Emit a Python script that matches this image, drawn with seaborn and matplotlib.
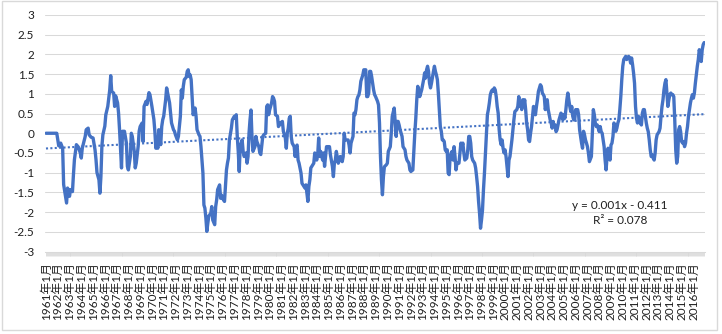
import matplotlib
matplotlib.use('Agg')
import matplotlib.pyplot as plt
import numpy as np
import pandas as pd
import seaborn as sns
from matplotlib.patches import Rectangle

# month index counted from 1961年1月 (= 0)
months_60s = [0, 11, 13, 15, 17, 18, 21, 22, 24, 25, 27, 28, 29, 31, 33, 35, 36, 37, 40, 41,
              43, 44, 46, 48, 50, 51, 52, 54, 55, 56, 57, 58, 60, 61, 63, 65, 66, 67, 69, 70,
              71, 73, 74, 75, 77, 78, 80, 82, 83, 84, 86, 87, 88, 90, 91, 92, 94, 95, 96, 98,
              99, 100, 102, 103, 105, 106]
values_60s = [0.0, 0.0, -0.32, -0.25, -0.38, -1.3, -1.77, -1.39, -1.6, -1.43, -1.48, -1.05, -0.67,
              -0.29, -0.35, -0.5, -0.63, -0.38, -0.08, 0.09, 0.13, -0.04, -0.1, -0.12, -0.42,
              -0.67, -1.0, -1.18, -1.52, -1.1, -0.33, -0.04, 0.18, 0.47, 0.68, 1.1, 1.46, 1.06,
              1.02, 0.68, 0.95, 0.77, 0.51, 0.09, -0.88, 0.05, 0.05, -0.25, -0.84, -0.93, -0.59,
              0.0, -0.08, -0.46, -0.88, -0.76, -0.33, 0.05, 0.17, 0.26, -0.21, 0.68, 0.81, 0.73,
              1.03, 0.98]

months_70s = [108, 109, 110, 111, 112, 113, 114, 115, 117, 118, 119, 120, 122, 123, 124, 126, 127,
              128, 130, 131, 132, 134, 135, 137, 138, 139, 140, 141, 143, 144, 145, 146, 147, 148,
              149, 150, 152, 153, 154, 156, 157, 158, 160, 161, 162, 163, 164, 165, 166, 168, 169,
              170, 172, 173, 174, 175, 177, 178, 179, 180, 181, 182, 183, 184, 185, 186, 187, 189,
              190, 192, 193, 194, 195, 196, 197, 198, 200, 201, 202, 204, 205, 206, 207, 208, 209,
              210, 211, 213, 214, 215, 217, 218, 219, 221, 222, 224, 225, 226, 227]
values_70s = [0.68, 0.51, 0.35, 0.05, -0.38, -0.17, -0.38, 0.09, -0.29, 0.17, 0.34, 0.43, 0.85,
              1.15, 1.02, 0.77, 0.51, 0.26, 0.09, 0.05, -0.04, -0.17, -0.08, 0.43, 1.1, 0.89,
              1.19, 1.36, 1.42, 1.57, 1.61, 1.44, 1.48, 1.36, 0.93, 0.47, 0.64, 0.43, 0.09, -0.04,
              -0.08, -0.34, -1.01, -1.82, -1.9, -2.15, -2.49, -2.28, -2.1, -2.03, -1.86, -2.2,
              -2.32, -1.86, -1.69, -1.43, -1.31, -1.65, -1.57, -1.65, -1.69, -1.73, -1.35, -0.93,
              -0.76, -0.63, -0.17, 0.13, 0.34, 0.43, 0.38, 0.47, -0.08, -0.46, -0.97, -0.34,
              -0.17, -0.46, -0.59, -0.5, -0.76, -0.59, 0.0, 0.34, 0.59, -0.08, -0.46, -0.34, -0.08,
              -0.21, -0.34, -0.5, -0.54, -0.08, -0.04, 0.0, 0.68, 0.72, 0.47]

months_80s = [228, 230, 231, 232, 233, 234, 236, 237, 238, 239, 241, 242, 244, 245, 246, 247, 248,
              249, 250, 251, 253, 254, 255, 256, 257, 258, 260, 261, 262, 264, 265, 266, 267, 268,
              269, 270, 272, 273, 274, 276, 277, 278, 279, 280, 282, 283, 284, 285, 286, 289, 290,
              292, 293, 294, 295, 296, 298, 299, 300, 302, 303, 304, 305, 308, 309, 310, 311, 313,
              314, 315, 316, 317, 318, 319, 320, 321, 322, 323, 324, 326, 327, 328, 329, 330, 331,
              332, 334, 335, 336, 338, 339, 340, 341, 342, 343, 344, 345, 347]
values_80s = [0.59, 0.77, 0.93, 0.89, 0.81, 0.47, 0.43, 0.17, 0.21, 0.26, 0.3, 0.05, -0.12, -0.38,
              0.0, 0.13, 0.38, 0.43, -0.08, -0.25, -0.34, -0.59, -0.34, -0.3, -0.68, -0.76, -1.01,
              -1.27, -1.31, -1.39, -1.31, -1.52, -1.73, -1.35, -1.18, -0.88, -0.8, -0.76, -0.5,
              -0.68, -0.55, -0.12, -0.59, -0.46, -0.68, -0.5, -0.84, -0.59, -0.34, -0.34, -0.55,
              -0.84, -1.1, -0.76, -0.68, -0.46, -0.76, -0.68, -0.59, -0.72, -0.59, 0.0, -0.17,
              -0.17, -0.3, -0.5, -0.25, -0.08, 0.51, 0.47, 0.6, 0.85, 0.93, 0.97, 1.1, 1.32, 1.4,
              1.48, 1.61, 1.61, 0.93, 0.93, 1.02, 1.57, 1.57, 1.44, 1.1, 0.98, 0.93, 0.81, 0.72,
              0.26, -0.59, -1.18, -1.56, -1.1, -0.85, -0.8]

months_90s = [348, 349, 351, 352, 353, 355, 356, 357, 358, 359, 360, 361, 363, 364, 366, 367, 368,
              370, 371, 372, 374, 376, 377, 378, 379, 380, 381, 382, 383, 385, 386, 387, 388, 389,
              390, 391, 392, 393, 395, 396, 397, 398, 399, 400, 401, 402, 403, 404, 405, 406, 407,
              408, 409, 410, 411, 412, 413, 414, 415, 416, 417, 418, 419, 421, 422, 423, 424, 425,
              426, 427, 429, 430, 431, 432, 433, 434, 435, 436, 437, 438, 439, 440, 441, 442, 443,
              444, 445, 446, 447, 448, 449, 450, 451, 452, 453, 454, 455, 456, 457, 458, 459, 460,
              461, 462, 463, 464, 465, 466, 467]
values_90s = [-0.76, -0.46, -0.34, 0.0, 0.43, 0.64, 0.26, -0.08, 0.3, 0.3, 0.21, 0.09, -0.08,
              -0.34, -0.42, -0.59, -0.68, -0.76, -0.93, -0.97, -0.93, 0.0, 0.38, 0.85, 1.19, 1.1,
              0.93, 1.02, 1.1, 1.36, 1.53, 1.4, 1.61, 1.7, 1.57, 1.27, 1.15, 1.27, 1.57, 1.7, 1.57,
              1.48, 1.36, 1.02, 0.6, 0.17, 0.05, -0.17, -0.17, -0.21, -0.42, -0.46, -0.42, -1.01,
              -1.05, -0.59, -0.5, -0.46, -0.68, -0.34, -0.59, -0.93, -0.76, -0.76, -0.5, -0.25,
              -0.34, -0.25, -0.5, -0.68, -0.63, -0.42, -0.08, -0.08, -0.25, -0.59, -0.68, -0.72,
              -0.76, -0.88, -1.1, -1.35, -1.73, -2.03, -2.41, -2.2, -1.95, -1.43, -1.01, -0.5, 0.0,
              0.47, 0.6, 0.77, 0.98, 1.06, 1.1, 1.06, 1.15, 1.1, 0.93, 0.68, 0.51, 0.09, -0.17,
              -0.29, -0.17, -0.38, -0.5]

months_00s = [468, 469, 470, 471, 472, 473, 474, 475, 476, 477, 478, 480, 481, 482, 483, 484, 485,
              486, 487, 488, 489, 490, 491, 492, 493, 494, 495, 496, 497, 498, 499, 500, 501, 502,
              503, 504, 505, 506, 507, 508, 509, 510, 511, 512, 513, 514, 515, 516, 517, 518, 519,
              520, 521, 522, 523, 524, 525, 526, 527, 528, 529, 530, 531, 532, 533, 534, 535, 536,
              537, 538, 539, 540, 541, 542, 543, 544, 545, 546, 547, 548, 549, 550, 551, 552, 553,
              554, 556, 557, 558, 559, 560, 561, 562, 563, 564, 565, 566, 567, 568, 569, 570, 571,
              572, 573, 574, 575, 576, 577, 578, 579, 580, 581, 582, 583, 584, 585, 586, 587]
values_00s = [-0.42, -0.59, -0.84, -1.1, -0.68, -0.59, -0.38, -0.17, 0.09, 0.34, 0.55, 0.6, 0.68,
              0.93, 0.68, 0.76, 0.6, 0.85, 0.68, 0.85, 0.6, 0.26, 0.09, -0.17, -0.21, 0.0, 0.17,
              0.43, 0.68, 0.51, 0.47, 0.68, 0.85, 1.06, 1.15, 1.23, 1.19, 1.02, 0.98, 0.93, 0.6,
              0.72, 0.85, 0.6, 0.47, 0.34, 0.26, 0.13, 0.3, 0.17, 0.21, 0.04, 0.09, 0.21, 0.34,
              0.43, 0.51, 0.47, 0.34, 0.47, 0.38, 0.6, 0.85, 1.02, 0.85, 0.68, 0.55, 0.68, 0.43,
              0.34, 0.34, 0.6, 0.55, 0.6, 0.47, 0.09, -0.08, -0.25, -0.38, 0.05, -0.04, -0.17,
              -0.25, -0.34, -0.5, -0.72, -0.59, 0.0, 0.6, 0.47, 0.26, 0.17, 0.21, 0.13, 0.04, 0.17,
              0.04, 0.0, -0.17, -0.34, -0.68, -0.93, -0.59, -0.38, -0.5, -0.68, -0.3, -0.25, -0.08,
              0.26, 0.21, 0.05, 0.13, 0.26, 0.34, 0.6, 0.93, 1.36]

months_10s = [588, 589, 590, 591, 592, 593, 594, 595, 596, 597, 598, 599, 600, 601, 602, 603, 604,
              605, 607, 608, 609, 610, 611, 612, 613, 614, 615, 616, 617, 618, 619, 620, 621, 622,
              623, 624, 625, 626, 627, 628, 629, 630, 631, 632, 633, 634, 635, 636, 637, 638, 639,
              640, 641, 642, 643, 644, 645, 646, 647, 648, 649, 650, 651, 652, 653, 654, 655, 656,
              657, 658, 659, 660, 661, 662, 664, 665, 666, 667, 668, 669, 670, 671]
values_10s = [1.7, 1.87, 1.91, 1.95, 1.87, 1.91, 1.95, 1.91, 1.78, 1.91, 1.74, 1.53, 1.27, 0.68,
              0.38, 0.26, 0.43, 0.3, 0.21, 0.51, 0.6, 0.6, 0.43, 0.26, 0.13, 0.04, -0.17, -0.42,
              -0.59, -0.55, -0.63, -0.68, -0.5, -0.17, -0.04, 0.0, 0.04, 0.13, 0.43, 0.68, 0.85,
              1.1, 1.27, 1.36, 1.02, 0.68, 0.85, 0.98, 1.02, 0.98, 0.98, 0.93, 0.34, -0.42, -0.76,
              -0.59, 0.09, 0.17, 0.04, -0.21, -0.25, -0.21, -0.34, -0.25, 0.0, 0.17, 0.43, 0.6,
              0.77, 0.89, 0.98, 0.89, 1.02, 1.27, 1.7, 1.87, 2.12, 1.99, 1.82, 2.12, 2.25, 2.3]

years = list(range(1961, 2017))
tick_labels = [f'{y}年1月' for y in years]
y_ticks = [-3, -2.5, -2, -1.5, -1, -0.5, 0, 0.5, 1, 1.5, 2, 2.5, 3]
eq_text = 'y = 0.001x - 0.411'
r2_text = 'R² = 0.078'

blue = '#4472C4'
light = '#D9D9D9'
ink = '#1f1f1f'

df = pd.DataFrame({
    'month': months_60s + months_70s + months_80s + months_90s + months_00s + months_10s,
    'value': values_60s + values_70s + values_80s + values_90s + values_00s + values_10s,
})

sns.set_theme(style='white')
plt.rcParams['font.family'] = ['Lato', 'Noto Sans CJK SC', 'DejaVu Sans']

fig = plt.figure(figsize=(7.22, 3.34), dpi=100)
ax = fig.add_axes([0.0630, 0.2470, 0.9130, 0.7081])

sns.lineplot(data=df, x='month', y='value', color=blue, linewidth=2.4,
             errorbar=None, ax=ax, solid_joinstyle='round', solid_capstyle='round')

# linear trendline like Excel's (x counted from 1, every month weighted the same)
all_months = np.arange(672)
monthly = np.interp(all_months, df['month'], df['value'])
slope, icpt = np.polyfit(all_months + 1, monthly, 1)
xs = np.array([0, 671])
ax.plot(xs, slope * (xs + 1) + icpt, color=blue, lw=1.5,
        linestyle=(0, (1, 1.1)), dash_capstyle='butt')

ax.set_xlim(-0.5, 671.5)
ax.set_ylim(-3, 3)
ax.set_yticks(y_ticks)
ax.set_yticklabels([f'{v:g}' for v in y_ticks])
ax.set_xticks(np.arange(0, 672, 12))
ax.set_xticklabels(tick_labels, rotation=90)
ax.set_xticks(all_months, minor=True)
ax.set_xlabel('')
ax.set_ylabel('')

ax.yaxis.grid(True, color=light, lw=0.75)
ax.xaxis.grid(False)
ax.set_axisbelow(True)
for side in ['left', 'right', 'top']:
    ax.spines[side].set_visible(False)
ax.spines['bottom'].set_color(light)
ax.spines['bottom'].set_linewidth(0.75)

ax.tick_params(axis='x', which='both', bottom=True, direction='out', length=3,
               width=0.6, color=light)
ax.tick_params(axis='x', which='major', pad=5, labelsize=8.5, labelcolor=ink)
ax.tick_params(axis='y', left=False, length=0, pad=8, labelsize=8.5, labelcolor=ink)

fig.text(620 / 722, 1 - 205.7 / 334, eq_text, ha='center', va='center',
         fontsize=8.5, color=ink)
fig.text(620 / 722, 1 - 220 / 334, r2_text, ha='center', va='center',
         fontsize=8.5, color=ink)

fig.patches.append(Rectangle((2 / 722, 4 / 334), 715 / 722, 329 / 334,
                             transform=fig.transFigure, fill=False, ec=light, lw=1))

fig.savefig('out.png', dpi=100)
